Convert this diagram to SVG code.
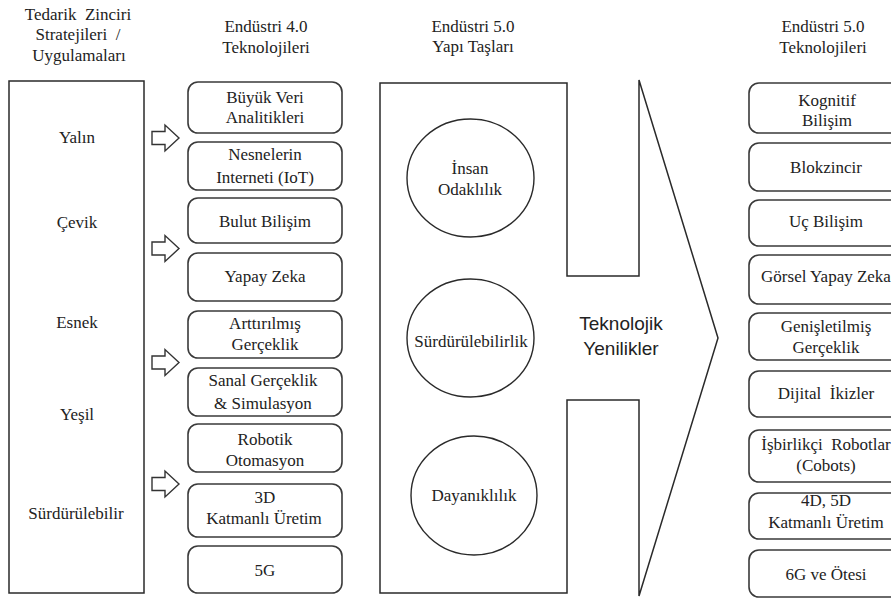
<svg xmlns="http://www.w3.org/2000/svg" xmlns:xlink="http://www.w3.org/1999/xlink" width="891" height="598" viewBox="0 0 891 598">
<style>
  .t { font-family: "Liberation Serif", "Times New Roman", serif; font-size: 17px; fill: #222; text-anchor: middle; }
  .s { font-family: "Liberation Sans", Arial, sans-serif; font-size: 19px; fill: #222; text-anchor: middle; }
  .box { fill: #fff; stroke: #3a3a3a; stroke-width: 1.6; }
  .line { fill: none; stroke: #2a2a2a; stroke-width: 1.5; }
  .circ { fill: #fff; stroke: #2a2a2a; stroke-width: 1.4; }
  .barrow { fill: #fff; stroke: #333; stroke-width: 1.4; stroke-linejoin: miter; }
</style>
<defs>
  <path id="barrow" class="barrow" d="M152,-6.5 H165 V-13 L179,0 L165,13 V6.5 H152 Z"/>
</defs>
<rect width="891" height="598" fill="#fff"/>

<!-- column titles -->
<g id="title-strategies">
  <text class="t" x="78" y="20" xml:space="preserve">Tedarik  Zinciri</text>
  <text class="t" x="78" y="40" xml:space="preserve">Stratejileri  /</text>
  <text class="t" x="79" y="61">Uygulamaları</text>
</g>
<g id="title-i40">
  <text class="t" x="266" y="32">Endüstri 4.0</text>
  <text class="t" x="266" y="53">Teknolojileri</text>
</g>
<g id="title-i50-blocks">
  <text class="t" x="473" y="32">Endüstri 5.0</text>
  <text class="t" x="473" y="52">Yapı Taşları</text>
</g>
<g id="title-i50-tech">
  <text class="t" x="823" y="32">Endüstri 5.0</text>
  <text class="t" x="823" y="53">Teknolojileri</text>
</g>

<!-- strategies box -->
<g id="strategies">
  <rect class="line" x="9" y="81" width="135" height="512"/>
  <text class="t" x="77" y="143">Yalın</text>
  <text class="t" x="77" y="228">Çevik</text>
  <text class="t" x="77" y="328">Esnek</text>
  <text class="t" x="77" y="420">Yeşil</text>
  <text class="t" x="76" y="519">Sürdürülebilir</text>
</g>

<!-- connectors: block arrows -->
<g id="connectors">
  <use xlink:href="#barrow" href="#barrow" y="138"/>
  <use xlink:href="#barrow" href="#barrow" y="248.5"/>
  <use xlink:href="#barrow" href="#barrow" y="362.5"/>
  <use xlink:href="#barrow" href="#barrow" y="484"/>
</g>

<!-- Industry 4.0 technologies -->
<g id="i40-bigdata"><rect class="box" x="188" y="82" width="154" height="51" rx="10"/>
  <text class="t" x="265" y="103">Büyük Veri</text><text class="t" x="265" y="123">Analitikleri</text></g>
<g id="i40-iot"><rect class="box" x="188" y="142" width="154" height="48" rx="10"/>
  <text class="t" x="265" y="160">Nesnelerin</text><text class="t" x="265" y="183">Interneti (IoT)</text></g>
<g id="i40-cloud"><rect class="box" x="188" y="198" width="154" height="45" rx="10"/>
  <text class="t" x="265" y="227">Bulut Bilişim</text></g>
<g id="i40-ai"><rect class="box" x="188" y="253" width="154" height="48" rx="10"/>
  <text class="t" x="265" y="282">Yapay Zeka</text></g>
<g id="i40-ar"><rect class="box" x="188" y="311" width="154" height="47" rx="10"/>
  <text class="t" x="265" y="329">Arttırılmış</text><text class="t" x="265" y="350">Gerçeklik</text></g>
<g id="i40-vr"><rect class="box" x="188" y="368" width="154" height="48" rx="10"/>
  <text class="t" x="263" y="386">Sanal Gerçeklik</text><text class="t" x="263" y="409">&amp; Simulasyon</text></g>
<g id="i40-robot"><rect class="box" x="188" y="424" width="154" height="48" rx="10"/>
  <text class="t" x="265" y="445">Robotik</text><text class="t" x="265" y="466">Otomasyon</text></g>
<g id="i40-3d"><rect class="box" x="188" y="484" width="154" height="53" rx="10"/>
  <text class="t" x="265" y="503">3D</text><text class="t" x="264" y="524">Katmanlı Üretim</text></g>
<g id="i40-5g"><rect class="box" x="188" y="546" width="154" height="47" rx="10"/>
  <text class="t" x="265" y="576">5G</text></g>

<!-- Industry 5.0 building blocks: notched arrow -->
<g id="i50-blocks">
  <polygon class="line" points="380,83 567,83 567,276 639,276 639,80 718,338 639,596 639,400 567,400 567,593 380,593"/>
  <text class="s" x="621" y="330">Teknolojik</text>
  <text class="s" x="621" y="355">Yenilikler</text>
</g>
<g id="human"><ellipse class="circ" cx="470.5" cy="178" rx="63.5" ry="59"/>
  <text class="t" x="470" y="174">İnsan</text><text class="t" x="470" y="195">Odaklılık</text></g>
<g id="sustain"><ellipse class="circ" cx="470.5" cy="338" rx="63.5" ry="59"/>
  <text class="t" x="471" y="347">Sürdürülebilirlik</text></g>
<g id="resilience"><ellipse class="circ" cx="474" cy="495.5" rx="63" ry="59.5"/>
  <text class="t" x="474" y="501">Dayanıklılık</text></g>

<!-- Industry 5.0 technologies -->
<g id="i50-cognitive"><rect class="box" x="749" y="83" width="154" height="50" rx="10"/>
  <text class="t" x="827" y="106">Kognitif</text><text class="t" x="827" y="126">Bilişim</text></g>
<g id="i50-blockchain"><rect class="box" x="749" y="143" width="154" height="48" rx="10"/>
  <text class="t" x="826" y="173">Blokzincir</text></g>
<g id="i50-edge"><rect class="box" x="749" y="200" width="154" height="46" rx="10"/>
  <text class="t" x="826" y="227">Uç Bilişim</text></g>
<g id="i50-vision"><rect class="box" x="749" y="255" width="154" height="49" rx="10"/>
  <text class="t" x="826" y="282">Görsel Yapay Zeka</text></g>
<g id="i50-xr"><rect class="box" x="749" y="313" width="154" height="47" rx="10"/>
  <text class="t" x="826" y="332">Genişletilmiş</text><text class="t" x="826" y="353">Gerçeklik</text></g>
<g id="i50-twins"><rect class="box" x="749" y="371" width="154" height="46" rx="10"/>
  <text class="t" x="826" y="399" xml:space="preserve">Dijital  İkizler</text></g>
<g id="i50-cobots"><rect class="box" x="749" y="430" width="154" height="52" rx="10"/>
  <text class="t" x="826" y="450" xml:space="preserve">İşbirlikçi  Robotlar</text><text class="t" x="826" y="471">(Cobots)</text></g>
<g id="i50-4d5d"><rect class="box" x="749" y="493" width="154" height="46" rx="10"/>
  <text class="t" x="826" y="506">4D, 5D</text><text class="t" x="826" y="528">Katmanlı Üretim</text></g>
<g id="i50-6g"><rect class="box" x="749" y="550" width="154" height="47" rx="10"/>
  <text class="t" x="826" y="580">6G ve Ötesi</text></g>
</svg>
